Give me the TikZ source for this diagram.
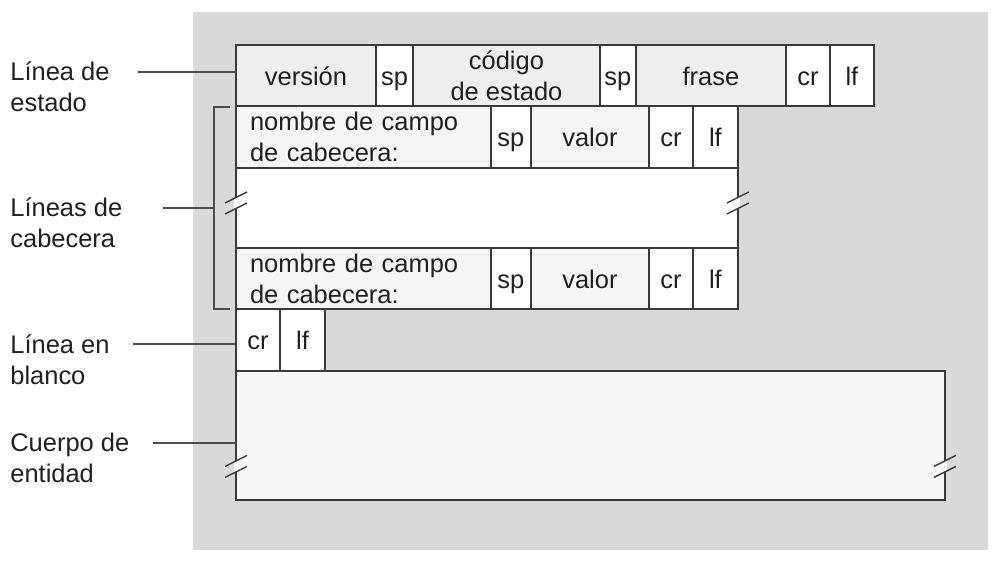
\documentclass[tikz,border=0pt]{standalone}
\usepackage{fontspec}
\setmainfont{Liberation Sans}
\usetikzlibrary{positioning,calc}
\definecolor{fondo}{RGB}{216,217,219}
\definecolor{celda}{RGB}{238,238,238}
\definecolor{campo}{RGB}{245,245,245}
\definecolor{cuerpo}{RGB}{248,248,248}
\definecolor{borde}{RGB}{58,58,60}
\definecolor{texto}{RGB}{35,31,32}
\tikzset{
  cell/.style={draw=borde, line width=0.8pt, fill=white, inner sep=0pt, outer sep=0pt,
    text=texto, font=\fontsize{14.5}{17.6}\selectfont, align=center},
  fila/.style={cell, minimum height=#1cm},
  corto/.style={text height=11pt, text depth=0pt},
  guia/.style={draw=borde!90, line width=0.6pt},
  etiqueta/.style={anchor=west, align=left, inner sep=0pt, text=texto,
    font=\fontsize{14.5}{17.6}\selectfont}
}
% marca de corte
\newcommand{\corte}[2]{%
  \begin{scope}[shift={(#1)}]
    \fill[#2] (-2,-4) -- (2,-6) -- (2,4) -- (-2,6) -- cycle;
    \draw[borde, line width=0.8pt] (-11,0) -- (11,-11);
    \draw[borde, line width=0.8pt] (-11,11) -- (11,0);
  \end{scope}}
\begin{document}
\begin{tikzpicture}[x=0.02cm, y=-0.02cm]
\useasboundingbox (0,0) rectangle (1001,563);
% Fondo
\fill[fondo] (193,12) rectangle (988,550);
% Linea de estado
\node[fila=1.22, corto, fill=celda, minimum width=2.8cm, anchor=north west] (version) at (236,45) {versión};
\node[fila=1.22, corto, minimum width=0.74cm, right=0pt of version] (spA) {sp};
\node[fila=1.22, fill=celda, minimum width=3.74cm, right=0pt of spA] (codigo) {código\\de estado};
\node[fila=1.22, corto, minimum width=0.72cm, right=0pt of codigo] (spB) {sp};
\node[fila=1.22, corto, fill=celda, minimum width=3.0cm, right=0pt of spB] (frase) {frase};
\node[fila=1.22, corto, minimum width=0.88cm, right=0pt of frase] (crA) {cr};
\node[fila=1.22, corto, minimum width=0.88cm, right=0pt of crA] (lfA) {lf};
% Lineas de cabecera
\node[fila=1.24, fill=campo, text width=4.54cm, inner xsep=0.28cm, align=left,
  anchor=north west] (nombreA) at (version.south west) {nombre de campo\\de cabecera:};
\node[fila=1.24, corto, minimum width=0.8cm, right=0pt of nombreA] (spC) {sp};
\node[fila=1.24, corto, fill=campo, minimum width=2.36cm, right=0pt of spC] (valorA) {valor};
\node[fila=1.24, corto, minimum width=0.88cm, right=0pt of valorA] (crB) {cr};
\node[fila=1.24, corto, minimum width=0.9cm, right=0pt of crB] (lfB) {lf};
\node[fila=1.6, minimum width=10.04cm, anchor=north west] (blanco) at (nombreA.south west) {};
\node[fila=1.22, fill=campo, text width=4.54cm, inner xsep=0.28cm, align=left,
  anchor=north west] (nombreB) at (blanco.south west) {nombre de campo\\de cabecera:};
\node[fila=1.22, corto, minimum width=0.8cm, right=0pt of nombreB] (spD) {sp};
\node[fila=1.22, corto, fill=campo, minimum width=2.36cm, right=0pt of spD] (valorB) {valor};
\node[fila=1.22, corto, minimum width=0.88cm, right=0pt of valorB] (crC) {cr};
\node[fila=1.22, corto, minimum width=0.9cm, right=0pt of crC] (lfC) {lf};
% Linea en blanco
\node[fila=1.24, corto, minimum width=0.88cm, anchor=north west] (crD) at (nombreB.south west) {cr};
\node[fila=1.24, corto, minimum width=0.9cm, right=0pt of crD] (lfD) {lf};
% Cuerpo de entidad
\node[fila=2.58, fill=cuerpo, minimum width=14.18cm, anchor=north west] (cuerpo) at (crD.south west) {};
% Cortes
\corte{$(blanco.west)+(0,-5)$}{white}
\corte{$(blanco.east)+(0,-5)$}{white}
\corte{$(cuerpo.west)+(0,31)$}{cuerpo}
\corte{$(cuerpo.east)+(0,31)$}{cuerpo}
% Llave
\coordinate (llaveA) at (230,107);
\coordinate (llaveB) at (230,309);
\draw[guia] (llaveA) -- ++(-16,0) coordinate (llaveX) |- (llaveB);
% Etiquetas
\node[etiqueta] (labEstado) at (10,87) {Línea de\\estado};
\node[etiqueta] (labCabecera) at (10,223) {Líneas de\\cabecera};
\node[etiqueta] (labBlanco) at (10,360) {Línea en\\blanco};
\node[etiqueta] (labCuerpo) at (10,458) {Cuerpo de\\entidad};
\coordinate (guiaA) at (138,72);
\coordinate (guiaB) at (163,208);
\coordinate (guiaC) at (133,344);
\coordinate (guiaD) at (153,443);
\draw[guia] (guiaA) -- (guiaA -| version.west);
\draw[guia] (guiaB) -- (guiaB -| llaveX);
\draw[guia] (guiaC) -- (guiaC -| crD.west);
\draw[guia] (guiaD) -- (guiaD -| cuerpo.west);
\end{tikzpicture}
\end{document}
